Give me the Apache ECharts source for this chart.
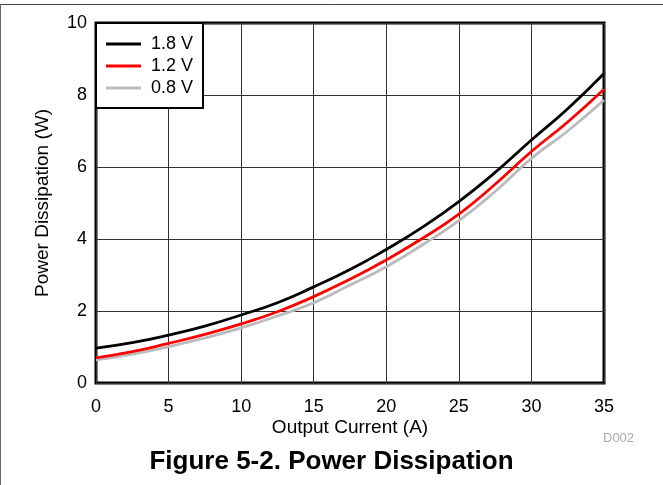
<!DOCTYPE html>
<html>
<head>
<meta charset="utf-8">
<script src="https://cdn.jsdelivr.net/npm/echarts@6/dist/echarts.min.js"></script>
<style>
html,body{margin:0;padding:0;background:#fff;}
#main{width:663px;height:485px;}
</style>
</head>
<body>
<div id="main"></div>
<script>
const current = [0, 2.5, 5, 7.5, 10, 12.5, 15, 17.5, 20, 22.5, 25, 27.5, 30, 32.5, 35];
const p18 = [0.97, 1.12, 1.33, 1.58, 1.89, 2.23, 2.67, 3.15, 3.71, 4.33, 5.04, 5.85, 6.75, 7.62, 8.60];
const p12 = [0.70, 0.87, 1.10, 1.35, 1.64, 1.98, 2.40, 2.88, 3.42, 4.02, 4.69, 5.52, 6.43, 7.25, 8.16];
const p08 = [0.64, 0.80, 1.01, 1.25, 1.53, 1.86, 2.23, 2.72, 3.23, 3.84, 4.51, 5.32, 6.24, 7.00, 7.86];
const seriesNames = ['1.8 V', '1.2 V', '0.8 V'];
const xTitle = 'Output Current (A)';
const yTitle = 'Power Dissipation (W)';
const figTitle = 'Figure 5-2. Power Dissipation';
const figId = 'D002';

const FONT = '"Liberation Sans", Arial, Helvetica, sans-serif';
const toPairs = (ys) => current.map((x, i) => [x, ys[i]]);

const chart = echarts.init(document.getElementById('main'), null, {renderer: 'canvas'});
chart.setOption({
  animation: false,
  backgroundColor: '#fff',
  textStyle: {fontFamily: FONT},
  title: [{
    text: figTitle,
    left: 'center',
    top: 444,
    textStyle: {fontFamily: FONT, fontSize: 26, fontWeight: 'bold', color: '#000'}
  }, {
    text: figId,
    left: 598,
    top: 427,
    textStyle: {fontFamily: FONT, fontSize: 13, fontWeight: 'normal', color: '#aaa'}
  }],
  grid: {
    left: 96, top: 23, right: 59, bottom: 102,
    show: true, borderColor: '#000', borderWidth: 3, backgroundColor: 'transparent'
  },
  legend: {
    data: seriesNames,
    orient: 'vertical',
    left: 96, top: 23,
    padding: [12, 10, 11, 10],
    itemWidth: 35, itemHeight: 14, itemGap: 4,
    backgroundColor: '#fff',
    borderColor: '#000', borderWidth: 2,
    textStyle: {fontFamily: FONT, fontSize: 18, color: '#000', padding: [0, 0, 0, 5]},
    icon: 'path://M0,6 L35,6 L35,9 L0,9 Z'
  },
  xAxis: {
    type: 'value', min: 0, max: 35, interval: 5,
    name: xTitle, nameLocation: 'middle', nameGap: 35, nameMoveOverlap: false,
    nameTextStyle: {fontFamily: FONT, fontSize: 19, color: '#000'},
    axisLine: {show: false}, axisTick: {show: false},
    axisLabel: {fontFamily: FONT, fontSize: 18, color: '#000', margin: 15},
    splitLine: {show: true, lineStyle: {color: '#333', width: 1}}
  },
  yAxis: {
    type: 'value', min: 0, max: 10, interval: 2,
    name: yTitle, nameLocation: 'middle', nameGap: 44, nameMoveOverlap: false,
    nameTextStyle: {fontFamily: FONT, fontSize: 19, color: '#000'},
    axisLine: {show: false}, axisTick: {show: false},
    axisLabel: {fontFamily: FONT, fontSize: 18, color: '#000', margin: 9},
    splitLine: {show: true, lineStyle: {color: '#333', width: 1}}
  },
  series: [
    {name: seriesNames[0], type: 'line', data: toPairs(p18), smooth: true, showSymbol: false, symbol: 'none',
     lineStyle: {color: '#000', width: 2.8}, itemStyle: {color: '#000'}, z: 3},
    {name: seriesNames[1], type: 'line', data: toPairs(p12), smooth: true, showSymbol: false, symbol: 'none',
     lineStyle: {color: '#ff0000', width: 2.8}, itemStyle: {color: '#ff0000'}, z: 3},
    {name: seriesNames[2], type: 'line', data: toPairs(p08), smooth: true, showSymbol: false, symbol: 'none',
     lineStyle: {color: '#bbbbbb', width: 2.8}, itemStyle: {color: '#bbbbbb'}, z: 2}
  ],
  graphic: [
    {type: 'line', shape: {x1: 0, y1: 4.5, x2: 663, y2: 4.5}, style: {stroke: '#444', lineWidth: 1}, silent: true},
    {type: 'line', shape: {x1: 0.5, y1: 4, x2: 0.5, y2: 485}, style: {stroke: '#666', lineWidth: 1}, silent: true}
  ]
});
</script>
</body>
</html>
